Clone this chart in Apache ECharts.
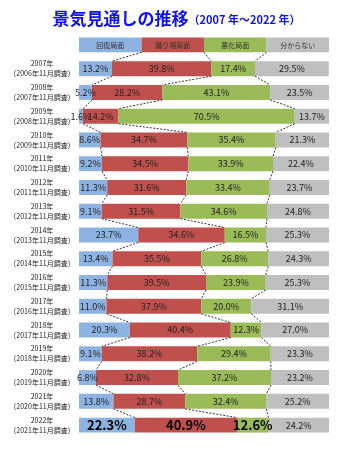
<!DOCTYPE html>
<html>
<head>
<meta charset="utf-8" />
<title>景気見通しの推移</title>
<style>
  html, body { margin: 0; padding: 0; background: #fff; }
  #main { width: 353px; height: 450px; }
</style>
</head>
<body>
<div id="main"></div>
<script src="https://cdn.jsdelivr.net/npm/echarts@6/dist/echarts.min.js"></script>
<script type="text/javascript">
    // 調査年（先頭は凡例の行）
    var years = ['', '2007年', '2008年', '2009年', '2010年', '2011年', '2012年', '2013年', '2014年',
        '2015年', '2016年', '2017年', '2018年', '2019年', '2020年', '2021年', '2022年'];
    var surveys = ['', '2006年11月調査', '2007年11月調査', '2008年11月調査', '2009年11月調査', '2010年11月調査',
        '2011年11月調査', '2012年11月調査', '2013年11月調査', '2014年11月調査', '2015年11月調査',
        '2016年11月調査', '2017年11月調査', '2018年11月調査', '2019年11月調査', '2020年11月調査', '2021年11月調査'];
    var names = ['回復局面', '踊り場局面', '悪化局面', '分からない'];
    var colors = ['#8db3e2', '#c0504d', '#9bbb59', '#bfbfbf'];

    var recovery = [25, 13.2, 5.2, 1.6, 8.6, 9.2, 11.3, 9.1, 23.7, 13.4, 11.3, 11.0, 20.3, 9.1, 6.8, 13.8, 22.3];
    var plateau = [25, 39.8, 28.2, 14.2, 34.7, 34.5, 31.6, 31.5, 34.6, 35.5, 39.5, 37.9, 40.4, 38.2, 32.8, 28.7, 40.9];
    var worse = [25, 17.4, 43.1, 70.5, 35.4, 33.9, 33.4, 34.6, 16.5, 26.8, 23.9, 20.0, 12.3, 29.4, 37.2, 32.4, 12.6];
    var unknown = [25, 29.5, 23.5, 13.7, 21.3, 22.4, 23.7, 24.8, 25.3, 24.3, 25.3, 31.1, 27.0, 23.3, 23.2, 25.2, 24.2];

    var values = [recovery, plateau, worse, unknown];
    var font = '"Noto Sans CJK JP", sans-serif';
    var barRatio = 0.63;
    var last = years.length - 1;

    var cats = years.map(function (y, i) {
        return i === 0 ? '' : y + '\n（' + surveys[i] + '）';
    });

    // 区切り線（累積値）
    var lineData = [];
    for (var i = 0; i < last; i++) {
        var a = 0, b = 0;
        for (var k = 0; k < 3; k++) {
            a += values[k][i];
            b += values[k][i + 1];
            lineData.push([a, i, b, i + 1]);
        }
    }

    var series = values.map(function (arr, s) {
        return {
            name: names[s],
            type: 'bar',
            stack: 'all',
            barWidth: (barRatio * 100) + '%',
            itemStyle: { color: colors[s] },
            data: arr.map(function (v, i) {
                var item = { value: v };
                if (i === 0) {
                    item.label = { formatter: names[s], fontSize: 7, color: '#333' };
                } else if (i === last && s < 3) {
                    item.label = { fontSize: 13, fontWeight: 'bold', color: '#000' };
                }
                return item;
            }),
            label: {
                show: true,
                position: 'inside',
                formatter: function (p) { return p.value.toFixed(1) + '%'; },
                fontSize: 9,
                color: '#222',
                fontFamily: font
            }
        };
    });

    series.push({
        type: 'custom',
        silent: true,
        encode: { x: [0, 2], y: [1, 3] },
        data: lineData,
        z: 5,
        renderItem: function (params, api) {
            var p1 = api.coord([api.value(0), api.value(1)]);
            var p2 = api.coord([api.value(2), api.value(3)]);
            var half = api.size([0, 1])[1] * barRatio / 2;
            return {
                type: 'line',
                shape: { x1: p1[0], y1: p1[1] + half, x2: p2[0], y2: p2[1] - half },
                style: { stroke: '#333', lineWidth: 1, lineDash: [2, 1.5] }
            };
        }
    });

    var chart = echarts.init(document.getElementById('main'));
    var option = {
        animation: false,
        title: {
            text: '{a|景気見通しの推移}{b|（2007 年～2022 年）}',
            left: 'center',
            top: 5,
            textStyle: {
                rich: {
                    a: { fontSize: 17, fontWeight: 'bold', color: '#1010f0', fontFamily: font },
                    b: { fontSize: 11, fontWeight: 'bold', color: '#1010f0', fontFamily: font, padding: [3, 0, 0, 0] }
                }
            }
        },
        grid: { left: 79, right: 24, top: 33, bottom: 13 },
        xAxis: { type: 'value', min: 0, max: 100, show: false },
        yAxis: {
            type: 'category',
            inverse: true,
            data: cats,
            axisLine: { show: false },
            axisTick: { show: false },
            axisLabel: {
                align: 'center',
                margin: 37,
                fontSize: 7,
                lineHeight: 10,
                color: '#222',
                fontFamily: font
            }
        },
        series: series
    };
    chart.setOption(option);
</script>
</body>
</html>
